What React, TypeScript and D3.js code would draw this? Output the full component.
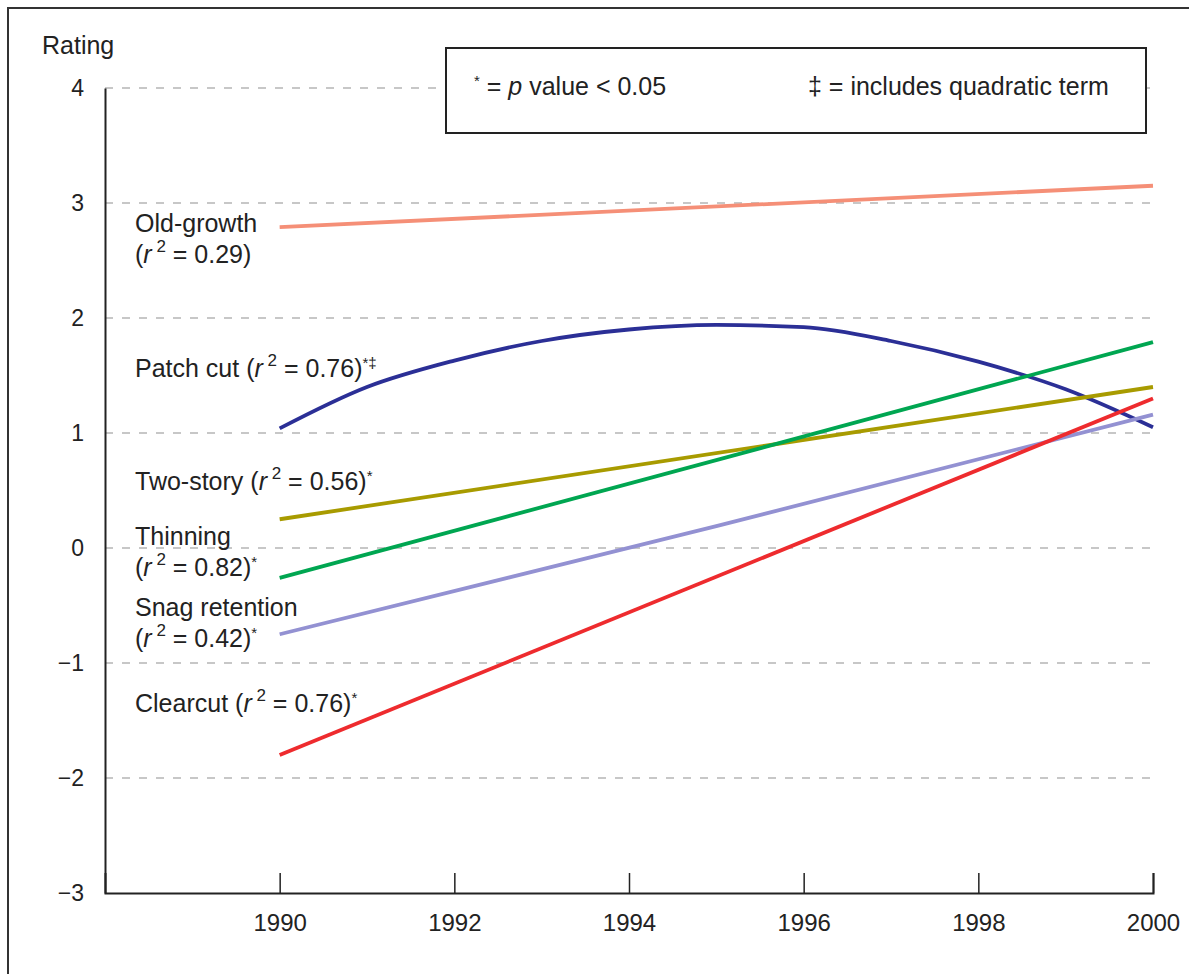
import React, { useEffect, useRef } from "react";
import * as d3 from "d3";

// values
const yTicks = [4, 3, 2, 1, 0, -1, -2, -3];
const xTicks = [1990, 1992, 1994, 1996, 1998, 2000];

const oldGrowthYears = [1990, 2000];
const oldGrowthValues = [2.79, 3.15];

const patchCutYears = [1990, 1991, 1992, 1993, 1994, 1995, 1996, 1997, 1998, 1999, 2000];
const patchCutValues = [1.04, 1.4, 1.63, 1.8, 1.9, 1.94, 1.92, 1.8, 1.62, 1.38, 1.05];

const twoStoryYears = [1990, 2000];
const twoStoryValues = [0.25, 1.4];

const thinningYears = [1990, 2000];
const thinningValues = [-0.26, 1.79];

const snagYears = [1990, 1995, 2000];
const snagValues = [-0.75, 0.19, 1.16];

const clearcutYears = [1990, 2000];
const clearcutValues = [-1.8, 1.3];

const series = [
  { name: "Old-growth", years: oldGrowthYears, values: oldGrowthValues, color: "#f58f77" },
  { name: "Patch cut", years: patchCutYears, values: patchCutValues, color: "#2b2f96" },
  { name: "Two-story", years: twoStoryYears, values: twoStoryValues, color: "#a89b00" },
  { name: "Thinning", years: thinningYears, values: thinningValues, color: "#00a651" },
  { name: "Snag retention", years: snagYears, values: snagValues, color: "#9391d2" },
  { name: "Clearcut", years: clearcutYears, values: clearcutValues, color: "#ee2b2e" },
];

// label lines: [prefix, r2, marks]
const labels = [
  { lines: [["Old-growth"], ["", "0.29", ""]], y: 232 },
  { lines: [["Patch cut ", "0.76", "*\u2021"]], y: 377 },
  { lines: [["Two-story ", "0.56", "*"]], y: 490 },
  { lines: [["Thinning"], ["", "0.82", "*"]], y: 545 },
  { lines: [["Snag retention"], ["", "0.42", "*"]], y: 616 },
  { lines: [["Clearcut ", "0.76", "*"]], y: 712 },
];

const W = 1189;
const H = 974;
const FONT = "'Liberation Sans', Arial, Helvetica, sans-serif";

const App = () => {
  const svgRef = useRef<SVGSVGElement>(null);

  useEffect(() => {
    const svg = d3.select(svgRef.current);
    svg.selectAll("*").remove();

    const x = d3.scaleLinear().domain([1988, 2000]).range([105, 1153]);
    const y = d3.scaleLinear().domain([-3, 4]).range([893, 88]);

    svg.append("rect").attr("width", W).attr("height", H).attr("fill", "#fff");

    // outer frame (only top & left visible in the crop)
    svg
      .append("rect")
      .attr("x", 8)
      .attr("y", 8)
      .attr("width", W + 20)
      .attr("height", H + 20)
      .attr("fill", "none")
      .attr("stroke", "#333")
      .attr("stroke-width", 2);

    // dashed grid
    svg
      .append("g")
      .selectAll("line")
      .data(yTicks.filter((d) => d > -3))
      .enter()
      .append("line")
      .attr("x1", x(1988))
      .attr("x2", x(2000))
      .attr("y1", (d) => y(d))
      .attr("y2", (d) => y(d))
      .attr("stroke", "#b5b5b5")
      .attr("stroke-width", 1.5)
      .attr("stroke-dasharray", "8,9");

    // legend box
    svg
      .append("rect")
      .attr("x", 446)
      .attr("y", 48)
      .attr("width", 700)
      .attr("height", 85)
      .attr("fill", "#fff")
      .attr("stroke", "#222")
      .attr("stroke-width", 2);

    const leg1 = svg
      .append("text")
      .attr("x", 474)
      .attr("y", 95)
      .attr("font-family", FONT)
      .attr("font-size", 25)
      .attr("fill", "#222");
    leg1.append("tspan").attr("font-size", 15).attr("dy", -9).text("*");
    leg1.append("tspan").attr("dy", 9).text(" = ");
    leg1.append("tspan").attr("font-style", "italic").text("p");
    leg1.append("tspan").text(" value < 0.05");

    svg
      .append("text")
      .attr("x", 808)
      .attr("y", 95)
      .attr("font-family", FONT)
      .attr("font-size", 25)
      .attr("fill", "#222")
      .text("\u2021 = includes quadratic term");

    // axes
    const yAxis = d3.axisLeft(y).tickValues(yTicks).tickSize(0).tickPadding(21)
      .tickFormat((d) => d3.format("d")(d as number).replace("-", "\u2212"));
    const gy = svg.append("g").attr("transform", `translate(${x(1988)},0)`).call(yAxis);
    gy.select(".domain").attr("stroke", "#222").attr("stroke-width", 2);
    gy.selectAll("text").attr("font-family", FONT).attr("font-size", 23).attr("fill", "#222");

    const xAxis = d3.axisBottom(x).tickValues(xTicks).tickSize(-20).tickPadding(0)
      .tickFormat(d3.format("d"));
    const gx = svg.append("g").attr("transform", `translate(0,${y(-3)})`).call(xAxis);
    gx.select(".domain").attr("stroke", "#222").attr("stroke-width", 2);
    gx.selectAll(".tick line").attr("stroke", "#222").attr("stroke-width", 1.5);
    gx.selectAll("text")
      .attr("font-family", FONT)
      .attr("font-size", 24)
      .attr("fill", "#222")
      .attr("dy", "1.6em");

    svg
      .append("text")
      .attr("x", 42)
      .attr("y", 54)
      .attr("font-family", FONT)
      .attr("font-size", 25)
      .attr("fill", "#222")
      .text("Rating");

    // trend lines
    const line = d3
      .line<[number, number]>()
      .x((d) => x(d[0]))
      .y((d) => y(d[1]))
      .curve(d3.curveMonotoneX);

    series.forEach((s) => {
      svg
        .append("path")
        .datum(s.years.map((yr, i) => [yr, s.values[i]] as [number, number]))
        .attr("fill", "none")
        .attr("stroke", s.color)
        .attr("stroke-width", 3.8)
        .attr("d", line);
    });

    // line labels
    labels.forEach((lab) => {
      lab.lines.forEach((parts, li) => {
        const t = svg
          .append("text")
          .attr("x", 135)
          .attr("y", lab.y + li * 31)
          .attr("font-family", FONT)
          .attr("font-size", 25)
          .attr("fill", "#222");
        if (parts.length === 1) {
          t.text(parts[0]);
          return;
        }
        t.append("tspan").text(parts[0] + "(");
        t.append("tspan").attr("font-style", "italic").text("r");
        t.append("tspan").attr("font-size", 17).attr("dy", -11).text(" 2");
        t.append("tspan").attr("dy", 11).text(" = " + parts[1] + ")");
        if (parts[2]) {
          t.append("tspan").attr("font-size", 15).attr("dy", -9).text(parts[2]);
        }
      });
    });
  }, []);

  return (
    <svg
      ref={svgRef}
      width={W}
      height={H}
      style={{ position: "absolute", left: 0, top: 0 }}
    ></svg>
  );
};

export default App;
